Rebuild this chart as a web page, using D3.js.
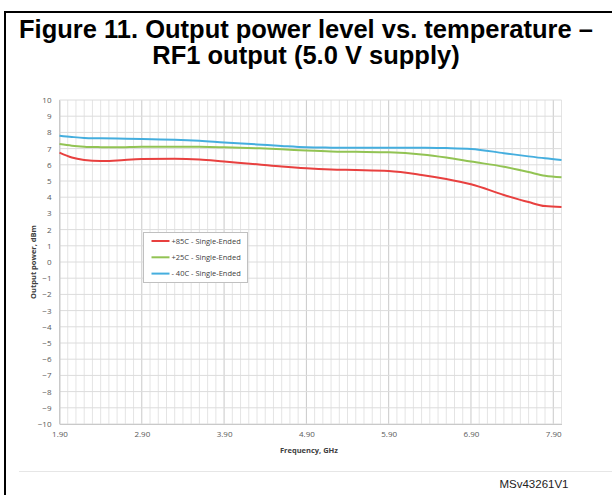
<!DOCTYPE html>
<html>
<head>
<meta charset="utf-8">
<script src="https://cdnjs.cloudflare.com/ajax/libs/d3/7.8.5/d3.min.js"></script>
<style>
  body { margin: 0; background: #fff; }
  svg { display: block; }
</style>
</head>
<body>
<svg width="612" height="495"></svg>
<script>
// values
const freq  = [1.90, 2.05, 2.20, 2.40, 2.60, 2.90, 3.30, 3.60, 3.90, 4.30, 4.60, 4.90, 5.20, 5.50, 5.90, 6.30, 6.60, 6.90, 7.30, 7.60, 7.80, 8.00];
const hot   = [6.75, 6.45, 6.30, 6.23, 6.27, 6.36, 6.38, 6.33, 6.20, 6.03, 5.89, 5.78, 5.71, 5.68, 5.62, 5.37, 5.12, 4.80, 4.14, 3.70, 3.45, 3.40];
const room  = [7.28, 7.18, 7.12, 7.09, 7.08, 7.12, 7.12, 7.11, 7.08, 7.02, 6.96, 6.88, 6.82, 6.80, 6.77, 6.64, 6.45, 6.20, 5.88, 5.55, 5.32, 5.23];
const cold  = [7.80, 7.72, 7.66, 7.64, 7.62, 7.60, 7.55, 7.48, 7.38, 7.26, 7.16, 7.08, 7.06, 7.05, 7.06, 7.05, 7.03, 6.98, 6.72, 6.52, 6.40, 6.30];

const seriesNames = ["+85C - Single-Ended", "+25C - Single-Ended", "- 40C - Single-Ended"];
const seriesColors = ["#e8403f", "#92c353", "#45aede"];
const xTicks = [1.9, 2.9, 3.9, 4.9, 5.9, 6.9, 7.9];
const yTicks = d3.range(-10, 11, 1);

const svg = d3.select("svg");

// frame
svg.append("line").attr("x1", 4).attr("y1", 12).attr("x2", 612).attr("y2", 12)
    .attr("stroke", "#000").attr("stroke-width", 2);
svg.append("line").attr("x1", 5).attr("y1", 11).attr("x2", 5).attr("y2", 495)
    .attr("stroke", "#000").attr("stroke-width", 2);

// title
const title = svg.append("text")
    .attr("text-anchor", "middle")
    .attr("font-family", "Liberation Sans, Arial, sans-serif")
    .attr("font-weight", "bold")
    .attr("font-size", 25.5)
    .attr("fill", "#000");
title.append("tspan").attr("x", 306).attr("y", 37.5)
    .text("Figure 11. Output power level vs. temperature –");
title.append("tspan").attr("x", 306).attr("y", 64)
    .text("RF1 output (5.0 V supply)");

const x = d3.scaleLinear().domain([1.9, 8.0]).range([59.5, 561.5]);
const y = d3.scaleLinear().domain([-10, 10]).range([424, 100]);

// vertical grid every 0.1 GHz, darker every 1 GHz
const vLines = d3.range(0, 62).map(i => +(1.9 + i * 0.1).toFixed(2));
svg.append("g").selectAll("line")
    .data(vLines)
    .enter().append("line")
    .attr("x1", d => x(d)).attr("x2", d => x(d))
    .attr("y1", y(10)).attr("y2", y(-10))
    .attr("stroke", (d, i) => i % 10 === 0 ? "#c9c9c9" : "#e4e4e4")
    .attr("stroke-width", 1);

svg.append("g").selectAll("line")
    .data(yTicks)
    .enter().append("line")
    .attr("x1", x(1.9)).attr("x2", x(8.0))
    .attr("y1", d => y(d)).attr("y2", d => y(d))
    .attr("stroke", "#dcdcdc")
    .attr("stroke-width", 1);

// axes
const tickFont = "Open Sans, DejaVu Sans, sans-serif";
const yAxis = svg.append("g")
    .attr("transform", `translate(${x(1.9)},0)`)
    .call(d3.axisLeft(y).tickValues(yTicks).tickSize(0).tickPadding(8));
yAxis.select(".domain").attr("stroke", "#c9c9c9");
yAxis.selectAll("text").attr("font-family", tickFont).attr("font-size", 8).attr("fill", "#595959");

const xAxis = svg.append("g")
    .attr("transform", `translate(0,${y(-10)})`)
    .call(d3.axisBottom(x).tickValues(xTicks).tickFormat(d3.format(".2f")).tickSize(0).tickPadding(7));
xAxis.select(".domain").attr("stroke", "#c9c9c9");
xAxis.selectAll("text").attr("font-family", tickFont).attr("font-size", 8).attr("fill", "#595959");

svg.append("text")
    .attr("x", 309).attr("y", 453)
    .attr("text-anchor", "middle")
    .attr("font-family", tickFont).attr("font-weight", "bold").attr("font-size", 7.5)
    .attr("fill", "#404040")
    .text("Frequency, GHz");

svg.append("text")
    .attr("transform", "translate(36,262) rotate(-90)")
    .attr("text-anchor", "middle")
    .attr("font-family", tickFont).attr("font-weight", "bold").attr("font-size", 7.5)
    .attr("fill", "#404040")
    .text("Output power, dBm");

// curves
const line = d3.line()
    .x((d, i) => x(freq[i]))
    .y(d => y(d))
    .curve(d3.curveMonotoneX);

[hot, room, cold].forEach((s, k) => {
    svg.append("path")
        .datum(s)
        .attr("d", line)
        .attr("fill", "none")
        .attr("stroke", seriesColors[k])
        .attr("stroke-width", 2);
});

// legend
const leg = svg.append("g").attr("transform", "translate(143.5,232.5)");
leg.append("rect").attr("width", 104).attr("height", 50)
    .attr("fill", "#fff").attr("stroke", "#c0c0c0").attr("stroke-width", 1);
seriesNames.forEach((name, k) => {
    const ly = 8.5 + k * 16.3;
    leg.append("line").attr("x1", 8).attr("x2", 26).attr("y1", ly).attr("y2", ly)
        .attr("stroke", seriesColors[k]).attr("stroke-width", 2);
    leg.append("text").attr("x", 28).attr("y", ly + 2.8)
        .attr("font-family", tickFont).attr("font-size", 7.5).attr("fill", "#404040")
        .text(name);
});

// footer
svg.append("line").attr("x1", 19).attr("x2", 612).attr("y1", 471.5).attr("y2", 471.5)
    .attr("stroke", "#e6e6e6").attr("stroke-width", 1);
svg.append("text")
    .attr("x", 568.5).attr("y", 487.5)
    .attr("text-anchor", "end")
    .attr("font-family", "Liberation Sans, Arial, sans-serif")
    .attr("font-size", 11.5)
    .attr("fill", "#222")
    .text("MSv43261V1");
</script>
</body>
</html>
